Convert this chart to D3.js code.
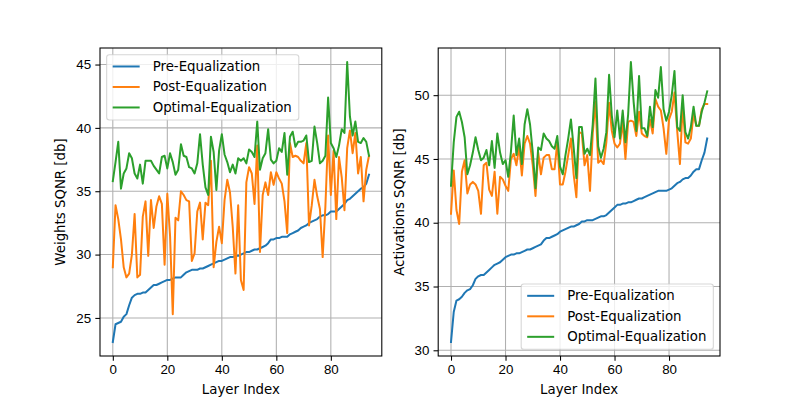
<!DOCTYPE html>
<html lang="en">
<head>
    <meta charset="UTF-8">
    <title>SQNR per Layer</title>
    <script src="https://d3js.org/d3.v7.min.js"></script>
    <style>
        body { margin: 0; background: #fff; }
        svg { font-family: "DejaVu Sans", sans-serif; }
        .tick text { font-size: 13.33px; fill: #000; }
        .tick line { stroke: #000; stroke-width: 1.07px; }
        .domain { display: none; }
        .grid line { stroke: #b0b0b0; stroke-width: 1.07px; }
        .line { fill: none; stroke-width: 2px; stroke-linejoin: round; stroke-linecap: square; }
        .axis-label { font-size: 13.33px; fill: #000; }
        .legend-text { font-size: 13.33px; fill: #000; }
    </style>
</head>
<body>
<div id="chart"></div>
<script>
    // series names and colours
    const seriesNames = ["Pre-Equalization", "Post-Equalization", "Optimal-Equalization"];
    const seriesColors = ["#1f77b4", "#ff7f0e", "#2ca02c"];

    // weights SQNR [db], layers 0..94
    const weightsPre = [23.1, 24.5, 24.6, 24.7, 25.1, 25.3, 26.0, 26.6, 26.8, 26.9, 26.9, 27.0, 27.0, 27.2, 27.4, 27.6, 27.6, 27.7, 27.8, 27.9,
        28.0, 28.0, 28.1, 28.2, 28.2, 28.2, 28.4, 28.6, 28.7, 28.8, 28.8, 28.8, 28.9, 28.9, 29.0, 29.1, 29.2, 29.3, 29.4, 29.5,
        29.5, 29.6, 29.7, 29.8, 29.8, 29.9, 29.9, 30.0, 30.1, 30.2, 30.2, 30.3, 30.4, 30.4, 30.5, 30.6, 30.7, 30.9, 31.2, 31.2,
        31.3, 31.3, 31.4, 31.4, 31.4, 31.6, 31.7, 31.8, 31.9, 32.1, 32.2, 32.3, 32.5, 32.6, 32.7, 32.8, 33.0, 33.1, 33.1, 33.2,
        33.4, 33.4, 33.4, 33.6, 33.8, 34.0, 34.3, 34.4, 34.6, 34.8, 35.0, 35.2, 35.3, 35.6, 36.3];
    const weightsPost = [29.0, 33.9, 32.8, 31.2, 29.0, 28.2, 28.5, 30.0, 33.2, 28.2, 28.4, 33.0, 34.2, 29.9, 34.3, 32.1, 33.8, 34.6, 34.0, 29.2,
        34.8, 31.5, 25.3, 32.9, 32.7, 35.0, 34.7, 34.3, 34.2, 29.5, 30.1, 33.4, 34.1, 31.2, 34.1, 33.9, 37.4, 29.0, 31.0, 32.2,
        30.9, 34.3, 35.9, 34.9, 32.2, 28.5, 33.9, 28.0, 27.2, 35.7, 36.9, 36.4, 34.0, 38.6, 30.2, 34.7, 35.7, 34.7, 36.5, 35.5,
        36.5, 36.0, 35.6, 34.2, 31.7, 38.8, 37.7, 37.8, 37.7, 37.4, 37.2, 38.8, 32.3, 33.9, 35.9, 34.6, 33.6, 29.8, 33.8, 39.4,
        34.7, 38.2, 32.8, 37.7, 36.1, 33.5, 38.4, 39.8, 38.0, 39.6, 36.4, 37.7, 34.2, 36.7, 37.8];
    const weightsOpt = [35.8, 37.3, 38.9, 35.2, 36.4, 36.8, 38.0, 37.6, 36.4, 36.0, 37.1, 35.6, 37.4, 37.4, 37.4, 37.0, 36.7, 36.4, 37.7, 37.8,
        36.8, 38.0, 37.3, 36.3, 36.7, 38.7, 37.8, 37.7, 36.9, 36.8, 36.4, 37.2, 39.5, 37.1, 35.3, 34.7, 39.3, 38.1, 35.1, 38.2,
        39.5, 37.9, 37.3, 36.5, 37.1, 36.4, 37.6, 37.4, 37.6, 37.2, 38.3, 38.1, 37.7, 40.5, 36.7, 37.6, 38.0, 39.9, 37.5, 37.2,
        37.4, 38.4, 38.1, 39.6, 36.3, 39.3, 39.7, 38.5, 38.9, 38.9, 39.0, 39.4, 37.3, 37.4, 40.1, 38.8, 37.2, 37.4, 37.8, 42.4,
        38.8, 38.4, 37.7, 38.6, 39.9, 39.6, 45.2, 40.9, 39.4, 40.5, 38.9, 38.8, 39.2, 38.9, 37.8];

    // activations SQNR [db], layers 0..94
    const actPre = [30.65, 33.0, 33.9, 34.0, 34.2, 34.5, 34.7, 34.8, 35.1, 35.6, 35.8, 35.9, 35.9, 36.1, 36.3, 36.5, 36.7, 36.8, 36.9, 37.1,
        37.3, 37.4, 37.5, 37.5, 37.6, 37.6, 37.7, 37.8, 37.9, 37.9, 38.0, 38.1, 38.2, 38.3, 38.6, 38.8, 38.8, 38.9, 39.0, 39.1,
        39.3, 39.4, 39.5, 39.6, 39.7, 39.7, 39.8, 39.9, 40.1, 40.1, 40.2, 40.2, 40.2, 40.3, 40.4, 40.5, 40.5, 40.6, 40.8, 41.0,
        41.2, 41.4, 41.4, 41.5, 41.5, 41.6, 41.6, 41.7, 41.8, 41.9, 41.9, 42.0, 42.1, 42.2, 42.3, 42.4, 42.5, 42.5, 42.5, 42.5,
        42.6, 42.7, 42.9, 43.1, 43.2, 43.4, 43.5, 43.5, 43.7, 44.0, 44.2, 44.2, 44.9, 45.5, 46.6];
    const actPost = [40.7, 44.1, 41.0, 39.9, 44.0, 44.9, 42.3, 43.0, 43.2, 43.0, 42.5, 40.7, 44.5, 44.7, 42.6, 42.1, 44.0, 40.7, 43.6, 43.4,
        42.9, 42.5, 45.0, 45.4, 44.5, 46.0, 43.7, 46.2, 46.8, 46.2, 44.5, 42.1, 45.5, 43.8, 45.1, 45.3, 45.3, 44.2, 44.2, 46.3,
        43.0, 43.0, 44.0, 45.3, 46.6, 43.8, 42.0, 47.1, 47.0, 44.5, 45.3, 42.5, 47.0, 49.5, 44.7, 44.9, 44.6, 46.3, 49.4, 47.2,
        46.2, 45.9, 46.2, 47.9, 45.0, 47.9, 48.0, 47.9, 46.8, 48.7, 47.0, 46.8, 46.7, 48.1, 47.0, 49.7, 49.1, 48.8, 47.4, 45.4,
        48.1, 48.7, 50.2, 47.2, 44.6, 49.2, 46.3, 46.2, 46.6, 48.5, 47.6, 47.6, 48.9, 49.3, 49.3];
    const actOpt = [42.9, 46.3, 48.3, 48.7, 47.9, 46.7, 43.8, 44.5, 45.5, 46.7, 45.7, 44.9, 45.1, 45.7, 44.5, 46.4, 44.3, 47.0, 45.5, 44.6,
        44.9, 43.6, 45.6, 48.4, 45.3, 46.6, 44.6, 47.7, 48.9, 47.7, 45.5, 42.7, 45.9, 45.7, 47.0, 46.6, 46.4, 46.0, 45.8, 46.8,
        44.4, 43.8, 45.3, 46.6, 48.1, 45.9, 43.5, 47.5, 47.5, 45.4, 45.8, 45.3, 47.7, 51.3, 46.0, 45.1, 45.8, 47.1, 51.6, 48.4,
        46.7, 48.8, 46.6, 48.8, 46.3, 48.5, 52.6, 49.5, 47.2, 51.5, 47.4, 47.4, 46.8, 49.1, 47.5, 50.4, 49.8, 52.2, 48.9, 48.0,
        48.7, 50.0, 51.9, 47.5, 47.2, 50.0, 47.1, 46.6, 47.5, 49.1, 47.6, 47.6, 48.7, 49.4, 50.3];

    // tick values
    const xTicks = [0, 20, 40, 60, 80];
    const weightsTicks = [25, 30, 35, 40, 45];
    const actTicks = [30, 35, 40, 45, 50];

    const width = 800, height = 400;
    const axTop = 48, axBottom = 356;
    const axW = 281.8;
    const panels = [
        { left: 100, series: [weightsPre, weightsPost, weightsOpt], yTicks: weightsTicks,
          ylabel: "Weights SQNR [db]", ylabelX: 65, legend: "upper left" },
        { left: 438.2, series: [actPre, actPost, actOpt], yTicks: actTicks,
          ylabel: "Activations SQNR [db]", ylabelX: 404, legend: "lower right" }
    ];

    const svg = d3.select("#chart").append("svg")
        .attr("width", width)
        .attr("height", height);

    panels.forEach(p => {
        const n = p.series[0].length;
        const idx = d3.range(n);

        // matplotlib style 5% margins
        const xPad = (n - 1) * 0.05;
        const x = d3.scaleLinear().domain([-xPad, n - 1 + xPad]).range([p.left, p.left + axW]);
        const all = p.series.flat();
        const lo = d3.min(all), hi = d3.max(all), yPad = (hi - lo) * 0.05;
        const y = d3.scaleLinear().domain([lo - yPad, hi + yPad]).range([axBottom, axTop]);

        const g = svg.append("g");

        // grid
        g.append("g").attr("class", "grid")
            .selectAll("line.v").data(xTicks).join("line")
            .attr("x1", d => x(d)).attr("x2", d => x(d))
            .attr("y1", axTop).attr("y2", axBottom);
        g.append("g").attr("class", "grid")
            .selectAll("line.h").data(p.yTicks).join("line")
            .attr("x1", p.left).attr("x2", p.left + axW)
            .attr("y1", d => y(d)).attr("y2", d => y(d));

        // lines
        p.series.forEach((s, k) => {
            const line = d3.line().x(i => x(i)).y(i => y(s[i]));
            g.append("path").datum(idx)
                .attr("class", "line")
                .attr("stroke", seriesColors[k])
                .attr("d", line);
        });

        // axes
        g.append("g")
            .attr("transform", `translate(0,${axBottom})`)
            .call(d3.axisBottom(x).tickValues(xTicks).tickSize(4.67).tickPadding(4.2).tickFormat(d3.format("d")));
        g.append("g")
            .attr("transform", `translate(${p.left},0)`)
            .call(d3.axisLeft(y).tickValues(p.yTicks).tickSize(4.67).tickPadding(4.2).tickFormat(d3.format("d")));

        // frame
        g.append("rect")
            .attr("x", p.left).attr("y", axTop)
            .attr("width", axW).attr("height", axBottom - axTop)
            .attr("fill", "none").attr("stroke", "#000").attr("stroke-width", 1.07);

        // axis labels
        g.append("text").attr("class", "axis-label")
            .attr("x", p.left + axW / 2).attr("y", 394)
            .attr("text-anchor", "middle")
            .text("Layer Index");
        g.append("text").attr("class", "axis-label")
            .attr("transform", `translate(${p.ylabelX},${(axTop + axBottom) / 2}) rotate(-90)`)
            .attr("text-anchor", "middle")
            .text(p.ylabel);

        // legend
        const lg = g.append("g");
        const texts = seriesNames.map(name => lg.append("text")
            .attr("class", "legend-text")
            .attr("dominant-baseline", "central")
            .text(name));
        const textW = d3.max(texts, t => t.node().getComputedTextLength());
        const handleX0 = 6, handleLen = 27, textGap = 13;
        const boxW = handleX0 + handleLen + textGap + textW + 7;
        const boxH = 65.3;
        const bx = p.legend === "upper left" ? p.left + 6.67 : p.left + axW - 6.67 - boxW;
        const by = p.legend === "upper left" ? axTop + 6.67 : axBottom - 6.67 - boxH;

        lg.insert("rect", "text")
            .attr("x", bx).attr("y", by)
            .attr("width", boxW).attr("height", boxH)
            .attr("rx", 2.7)
            .attr("fill", "rgba(255,255,255,0.8)")
            .attr("stroke", "#cccccc").attr("stroke-opacity", 0.8).attr("stroke-width", 1.07);

        seriesNames.forEach((name, k) => {
            const cy = by + 11.8 + k * 20.5;
            lg.insert("line", "text")
                .attr("x1", bx + handleX0).attr("x2", bx + handleX0 + handleLen)
                .attr("y1", cy).attr("y2", cy)
                .attr("stroke", seriesColors[k]).attr("stroke-width", 2);
            texts[k].attr("x", bx + handleX0 + handleLen + textGap).attr("y", cy);
        });
    });
</script>
</body>
</html>
